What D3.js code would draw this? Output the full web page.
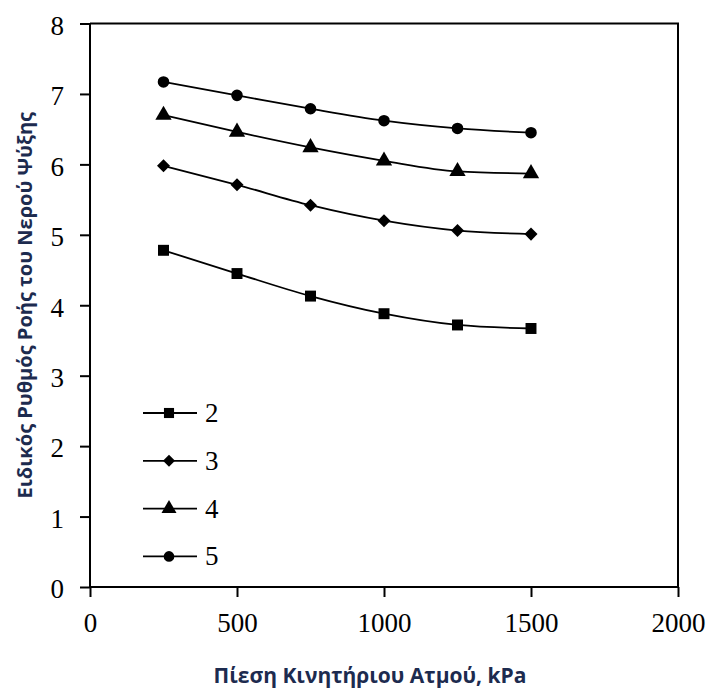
<!DOCTYPE html>
<html>
<head>
<meta charset="utf-8">
<script src="https://cdn.jsdelivr.net/npm/d3@7"></script>
<style>
  html, body { margin: 0; padding: 0; background: #fff; }
  svg { display: block; }
</style>
</head>
<body>
<div id="chart"></div>
<script>
// Steam motive pressure (kPa) at which each run was measured
const pressures = [250, 500, 750, 1000, 1250, 1500];

// Series names shown in the legend
const seriesNames = ["2", "3", "4", "5"];

// Specific cooling-water flow rate for each series
const values2 = [4.78, 4.45, 4.13, 3.88, 3.72, 3.67];
const values3 = [5.98, 5.71, 5.42, 5.20, 5.06, 5.01];
const values4 = [6.70, 6.46, 6.24, 6.05, 5.90, 5.87];
const values5 = [7.17, 6.98, 6.79, 6.62, 6.51, 6.45];

const xTicks = [0, 500, 1000, 1500, 2000];
const yTicks = [0, 1, 2, 3, 4, 5, 6, 7, 8];

const xTitle = "Πίεση Κινητήριου Ατμού, kPa";
const yTitle = "Ειδικός Ρυθμός Ροής του Νερού Ψύξης";

const W = 713, H = 693;
const plotLeft = 90, plotRight = 678, plotTop = 23.5, plotBottom = 587;

const svg = d3.select("#chart").append("svg")
  .attr("width", W).attr("height", H);

const x = d3.scaleLinear().domain([0, 2000]).range([plotLeft, plotRight]);
const y = d3.scaleLinear().domain([0, 8]).range([plotBottom, plotTop]);

const serif = "'Liberation Serif', 'Times New Roman', serif";
const sans = "'Open Sans', 'Noto Sans', sans-serif";
const titleColor = "#1d2b4f";

// Frame: top and right borders
svg.append("path")
  .attr("d", `M${plotLeft},${plotTop}H${plotRight}V${plotBottom}`)
  .attr("fill", "none").attr("stroke", "#000").attr("stroke-width", 2);

// Axes
const xAxis = svg.append("g")
  .attr("transform", `translate(0,${plotBottom})`)
  .call(d3.axisBottom(x).tickValues(xTicks).tickSize(10).tickPadding(30)
    .tickFormat(d3.format("d")));
const yAxis = svg.append("g")
  .attr("transform", `translate(${plotLeft},0)`)
  .call(d3.axisLeft(y).tickValues(yTicks).tickSize(10).tickPadding(16)
    .tickFormat(d3.format("d")));

xAxis.select(".domain").attr("d", `M${plotLeft},0H${plotRight}`);
yAxis.select(".domain").attr("d", `M0,${plotBottom}V${plotTop}`);
[xAxis, yAxis].forEach(g => {
  g.select(".domain").attr("stroke", "#000").attr("stroke-width", 2);
  g.selectAll(".tick line").attr("stroke", "#000").attr("stroke-width", 2);
  g.selectAll(".tick text")
    .attr("fill", "#000")
    .style("font-family", serif)
    .style("font-size", "27px");
});
xAxis.selectAll(".tick text").attr("dy", "0.2em");
yAxis.selectAll(".tick text").attr("dy", "0.4em");

// Axis titles
svg.append("text")
  .attr("x", 370).attr("y", 683)
  .attr("text-anchor", "middle")
  .attr("fill", titleColor)
  .style("font-family", sans).style("font-weight", 700).style("font-size", "21px")
  .text(xTitle);

svg.append("text")
  .attr("transform", `translate(32,${(plotTop + plotBottom) / 2}) rotate(-90)`)
  .attr("text-anchor", "middle")
  .attr("fill", titleColor)
  .style("font-family", sans).style("font-weight", 700).style("font-size", "20px")
  .text(yTitle);

// Marker shapes per series: square, 45°-turned square, triangle, circle
const symbols = [d3.symbolSquare, d3.symbolSquare, d3.symbolTriangle, d3.symbolCircle];
const symbolRot = [0, 45, 0, 0];
const symbolSizes = [120, 85, 115, 105];
const allValues = [values2, values3, values4, values5];

const line = d3.line()
  .x(d => x(d[0]))
  .y(d => y(d[1]))
  .curve(d3.curveMonotoneX);

allValues.forEach((vals, i) => {
  const pts = pressures.map((p, j) => [p, vals[j]]);
  svg.append("path")
    .datum(pts)
    .attr("d", line)
    .attr("fill", "none")
    .attr("stroke", "#000")
    .attr("stroke-width", 1.8);
  svg.append("g").selectAll("path")
    .data(pts)
    .join("path")
    .attr("transform", d => `translate(${x(d[0])},${y(d[1])}) rotate(${symbolRot[i]})`)
    .attr("d", d3.symbol().type(symbols[i]).size(symbolSizes[i]))
    .attr("fill", "#000");
});

// Legend
const legend = svg.append("g");
const legendY0 = 413, legendStep = 47.8;
seriesNames.forEach((name, i) => {
  const ly = legendY0 + i * legendStep;
  legend.append("line")
    .attr("x1", 143).attr("x2", 197)
    .attr("y1", ly).attr("y2", ly)
    .attr("stroke", "#000").attr("stroke-width", 1.8);
  legend.append("path")
    .attr("transform", `translate(169,${ly}) rotate(${symbolRot[i]})`)
    .attr("d", d3.symbol().type(symbols[i]).size(symbolSizes[i] * 0.85))
    .attr("fill", "#000");
  legend.append("text")
    .attr("x", 205).attr("y", ly)
    .attr("dy", "0.33em")
    .attr("fill", "#000")
    .style("font-family", serif).style("font-size", "27px")
    .text(name);
});
</script>
</body>
</html>
